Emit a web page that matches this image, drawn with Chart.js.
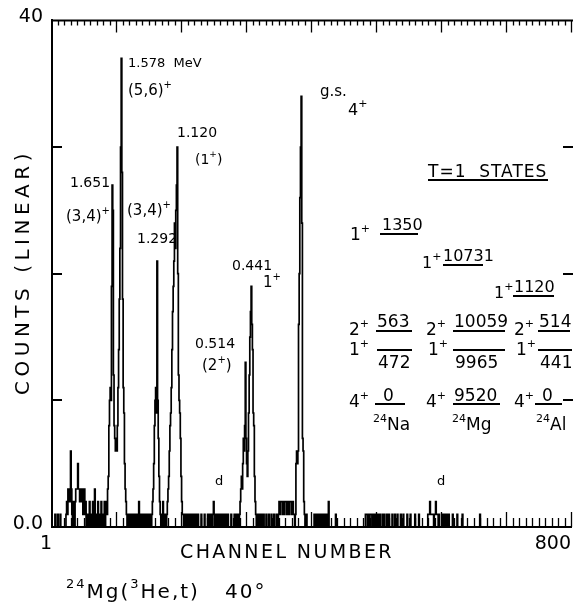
<!DOCTYPE html>
<html>
<head>
<meta charset="utf-8">
<script src="https://cdn.jsdelivr.net/npm/chart.js@4.4.1/dist/chart.umd.min.js"></script>
<style>
  html, body { margin: 0; padding: 0; background: #fff; }
  canvas { display: block; }
</style>
</head>
<body>
<canvas id="spectrum" width="577" height="607"></canvas>
<script>
// counts per channel (channels not listed are 0)
var peakStarts = [84, 155, 178, 290, 376];
var peakCounts = [
  [1,2,1,3,4,8,10,11,10,19,27,25,12,8,7,6,7,6,8,11,14,18,22,30,37,28,18,11,9,5,3,2,1], // 1.651 / 1.578
  [1,2,3,5,8,10,11,9,21,10,7,4,2,1],                                                   // 1.292
  [1,2,3,4,6,8,9,11,14,17,19,21,24,22,25,27,30,20,12,10,9,7,4,2,1],                    // 1.120
  [1,2,3,4,3,5,7,6,8,13,7,5,4,6,9,12,15,17,19,16,14,9,8,4,2,1],                        // 0.514 / 0.441
  [1,5,6,5,6,16,20,26,30,34,24,7,6,2,1]                                                // g.s.
];
var noiseChannels = [6,10,14,23,24,25,26,27,28,29,30,31,32,34,35,37,38,39,40,41,42,43,44,45,46,47,48,49,50,51,52,53,
  56,57,59,60,62,64,65,67,68,70,72,73,75,77,79,80,82,
  118,120,123,126,129,132,134,135,137,139,141,143,145,147,149,151,153,
  170,172,173,175,
  203,205,206,208,210,211,213,215,217,219,222,224,226,231,236,241,243,244,246,247,249,250,251,253,255,257,259,261,263,266,268,270,272,277,282,283,285,286,288,
  318,320,323,324,327,331,335,339,343,347,350,351,352,353,354,355,356,357,358,359,360,361,362,363,364,365,366,367,368,369,370,371,372,373,374,
  393,405,407,409,410,412,414,416,418,420,422,424,427,438,
  484,485,486,488,489,491,492,493,495,497,499,503,504,506,510,512,516,519,520,525,529,533,538,542,548,553,560,566,
  580,581,582,583,584,585,586,587,588,590,591,592,593,594,595,597,
  602,604,606,607,609,610,612,618,625,633,660];
var noiseCounts = [1,1,1,1,2,1,3,2,3,2,6,3,1,2,1,2,3,3,3,5,3,3,2,3,3,2,3,1,2,3,1,2,
  1,1,2,1,1,2,1,3,1,1,2,1,1,2,1,1,2,
  1,1,1,1,1,1,1,2,1,1,1,1,1,1,1,1,1,
  1,2,1,1,
  1,1,1,1,1,1,1,1,1,1,1,1,1,1,1,1,1,1,1,1,1,2,1,1,1,1,1,1,1,1,1,1,1,1,1,1,1,1,1,
  1,1,1,1,1,1,1,1,1,1,1,2,1,2,2,2,1,2,2,1,2,2,2,1,2,2,1,2,2,2,1,2,2,1,1,
  1,1,1,1,1,1,1,1,1,1,1,1,2,1,
  1,1,1,1,1,1,1,1,1,1,1,1,1,1,1,1,1,1,1,1,1,1,1,1,1,1,1,1,
  1,1,1,2,1,1,1,1,1,1,1,2,1,1,1,1,
  1,1,1,1,1,1,1,1,1,1,1];

var xTickValues = [1, 800];
var yTickValues = [0, 40];
var yTickLabels = {0: '0.0', 40: '40'};
var yMinorTicks = [10, 20, 30];

// text on the figure: [text, x, baseline, size, letter spacing]
var labels = [
  ['1.578  MeV', 128, 67, 13],
  ['(5,6)^{+}', 128, 95, 15],
  ['1.120', 177, 137, 14],
  ['(1^{+})', 195, 164, 14],
  ['1.651', 70, 187, 14],
  ['(3,4)^{+}', 66, 221, 15],
  ['(3,4)^{+}', 127, 215, 15],
  ['1.292', 137, 243, 14],
  ['0.441', 232, 270, 14],
  ['1^{+}', 263, 287, 15],
  ['0.514', 195, 348, 14],
  ['(2^{+})', 202, 370, 15],
  ['d', 215, 485, 13],
  ['d', 437, 485, 13],
  ['g.s.', 320, 96, 15],
  ['4^{+}', 348, 115, 16],
  ['T=1  STATES', 428, 177, 17, 1],
  ['1^{+}', 350, 240, 17], ['1350', 382, 230, 16],
  ['1^{+}', 422, 268, 16], ['10731', 443, 261, 16],
  ['1^{+}', 494, 298, 16], ['1120', 514, 292, 16],
  ['2^{+}', 349, 335, 17], ['563', 377, 327, 17],
  ['1^{+}', 349, 355, 17], ['472', 378, 368, 17],
  ['2^{+}', 426, 335, 17], ['10059', 454, 327, 17],
  ['1^{+}', 428, 355, 17], ['9965', 455, 368, 17],
  ['2^{+}', 514, 335, 17], ['514', 539, 327, 17],
  ['1^{+}', 516, 355, 17], ['441', 540, 368, 17],
  ['4^{+}', 349, 407, 17], ['0', 383, 401, 17], ['^{24}Na', 373, 430, 17],
  ['4^{+}', 426, 407, 17], ['9520', 454, 401, 17], ['^{24}Mg', 452, 430, 17],
  ['4^{+}', 514, 407, 17], ['0', 542, 401, 17], ['^{24}Al', 536, 430, 17],
  ['^{24}Mg(^{3}He,t)', 66, 598, 20, 2],
  ['40°', 225, 598, 20, 2]
];
// level lines of the T=1 diagram: [x1, x2, y]
var levelLines = [
  [428, 548, 180],
  [380, 418, 234], [443, 483, 265], [513, 554, 296],
  [376, 412, 331], [453, 505, 331], [538, 570, 331],
  [377, 412, 350], [453, 505, 350], [538, 572, 350],
  [375, 405, 404], [453, 500, 404], [535, 562, 404]
];

var FONT = '"DejaVu Sans", sans-serif';

function drawRich(ctx, str, x, y, size, spacing) {
  var parts = str.split(/(\^\{[^}]*\})/);
  ctx.letterSpacing = (spacing || 0) + 'px';
  parts.forEach(function(p) {
    if (!p) return;
    var sup = p.indexOf('^{') === 0;
    var t = sup ? p.slice(2, -1) : p;
    var s = sup ? Math.round(size * 0.66) : size;
    ctx.font = s + 'px ' + FONT;
    ctx.fillText(t, x, sup ? y - size * 0.5 : y);
    x += ctx.measureText(t).width;
  });
  ctx.letterSpacing = '0px';
}

var decor = {
  id: 'decor',
  afterDraw: function(chart) {
    var ctx = chart.ctx, a = chart.chartArea;
    var xs = chart.scales.x, ys = chart.scales.y;
    ctx.save();
    ctx.strokeStyle = '#000';
    ctx.fillStyle = '#000';
    ctx.lineWidth = 2;
    // top frame
    ctx.beginPath();
    ctx.moveTo(a.left - 1, a.top);
    ctx.lineTo(a.right + 2, a.top);
    ctx.stroke();
    // inward ticks, top and bottom, every 10 channels
    ctx.lineWidth = 1.3;
    for (var ch = 10; ch <= 800; ch += 10) {
      var px = Math.round(xs.getPixelForValue(ch)) + 0.5;
      var major = ch % 100 === 0;
      ctx.beginPath();
      ctx.moveTo(px, a.top);
      ctx.lineTo(px, a.top + (major ? 12 : 5));
      ctx.moveTo(px, a.bottom);
      ctx.lineTo(px, a.bottom - (major ? 15 : 9));
      ctx.stroke();
    }
    // inward ticks on the count axes
    ctx.lineWidth = 2;
    yMinorTicks.forEach(function(v) {
      var py = Math.round(ys.getPixelForValue(v));
      ctx.beginPath();
      ctx.moveTo(a.left, py); ctx.lineTo(a.left + 10, py);
      ctx.moveTo(a.right - 8, py); ctx.lineTo(a.right + 2, py);
      ctx.stroke();
    });
    // annotations
    ctx.textBaseline = 'alphabetic';
    ctx.textAlign = 'left';
    labels.forEach(function(l) { drawRich(ctx, l[0], l[1], l[2], l[3], l[4]); });
    ctx.lineWidth = 2;
    levelLines.forEach(function(l) {
      ctx.beginPath();
      ctx.moveTo(l[0], l[2]); ctx.lineTo(l[1], l[2]);
      ctx.stroke();
    });
    // axis titles
    ctx.font = '19px ' + FONT;
    ctx.letterSpacing = '2.4px';
    ctx.fillText('CHANNEL NUMBER', 180, 558);
    ctx.font = '20px ' + FONT;
    ctx.translate(29, 272);
    ctx.rotate(-Math.PI / 2);
    ctx.textAlign = 'center';
    ctx.letterSpacing = '4.5px';
    ctx.fillText('COUNTS (LINEAR)', 0, 0);
    ctx.restore();
  }
};

var counts = new Array(800).fill(0);
noiseChannels.forEach(function(ch, i) { counts[ch - 1] = noiseCounts[i]; });
peakStarts.forEach(function(start, p) {
  peakCounts[p].forEach(function(c, k) { counts[start - 1 + k] = c; });
});
var points = counts.map(function(c, i) { return {x: i + 1, y: c}; });

var ctx = document.getElementById('spectrum');
var chart = new Chart(ctx, {
  type: 'line',
  data: {
    datasets: [{
      data: points,
      borderColor: '#000',
      borderWidth: 1.7,
      pointRadius: 0,
      stepped: 'middle',
      fill: false
    }]
  },
  options: {
    responsive: false,
    animation: false,
    devicePixelRatio: 1,
    layout: {padding: {top: 13, right: 2, left: 0, bottom: 0}},
    plugins: {legend: {display: false}, tooltip: {enabled: false}},
    scales: {
      x: {
        type: 'linear',
        min: 1,
        max: 800,
        afterFit: function(s) { s.height = 80; },
        afterBuildTicks: function(s) { s.ticks = xTickValues.map(function(v) { return {value: v}; }); },
        grid: {display: true, drawOnChartArea: false, drawTicks: false},
        border: {display: true, color: '#000', width: 2},
        ticks: {
          color: '#000', font: {family: FONT, size: 19}, padding: 6, align: 'end',
          maxRotation: 0, autoSkip: false,
          callback: function(v) { return String(v); }
        }
      },
      y: {
        min: 0,
        max: 40,
        afterFit: function(s) { s.width = 52; },
        afterBuildTicks: function(s) { s.ticks = yTickValues.map(function(v) { return {value: v}; }); },
        grid: {display: true, drawOnChartArea: false, drawTicks: false},
        border: {display: true, color: '#000', width: 2},
        ticks: {
          color: '#000', font: {family: FONT, size: 19}, padding: 9, labelOffset: -3,
          callback: function(v) { return yTickLabels[v]; }
        }
      }
    }
  },
  plugins: [decor]
});
</script>
</body>
</html>
